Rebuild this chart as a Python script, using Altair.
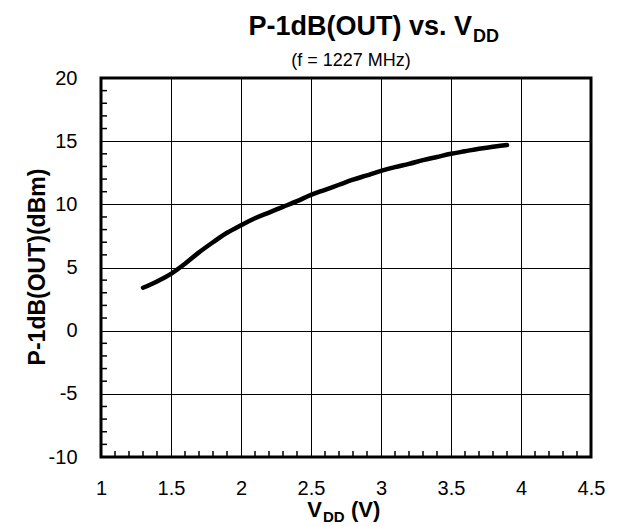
import altair as alt
import pandas as pd

# ---- data ----
vdd = [1.3, 1.4, 1.5, 1.6, 1.7, 1.8, 1.9, 2.0, 2.1, 2.2, 2.3, 2.4, 2.5, 2.6,
       2.7, 2.8, 2.9, 3.0, 3.1, 3.2, 3.3, 3.4, 3.5, 3.6, 3.7, 3.8, 3.9]
p1db = [3.4, 3.9, 4.5, 5.3, 6.2, 7.0, 7.75, 8.35, 8.9, 9.35, 9.8, 10.25, 10.75, 11.15,
        11.55, 11.95, 12.3, 12.65, 12.95, 13.2, 13.5, 13.75, 14.0, 14.2, 14.4, 14.55, 14.7]

x_ticks = [1, 1.5, 2, 2.5, 3, 3.5, 4, 4.5]
y_ticks = [-10, -5, 0, 5, 10, 15, 20]
x_minor = [1.1, 1.2, 1.3, 1.4, 1.6, 1.7, 1.8, 1.9, 2.1, 2.2, 2.3, 2.4, 2.6, 2.7, 2.8, 2.9,
           3.1, 3.2, 3.3, 3.4, 3.6, 3.7, 3.8, 3.9, 4.1, 4.2, 4.3, 4.4]
y_minor = [-9, -8, -7, -6, -4, -3, -2, -1, 1, 2, 3, 4, 6, 7, 8, 9,
           11, 12, 13, 14, 16, 17, 18, 19]

title_main = "P-1dB(OUT) vs. V"
title_sub = "DD"
subtitle = "(f = 1227 MHz)"
xtitle_main = "V"
xtitle_sub = "DD"
xtitle_tail = "(V)"
ytitle = "P-1dB(OUT)(dBm)"

FONT = "Liberation Sans"
W, H = 490, 379

xscale = alt.Scale(domain=[1, 4.5], nice=False, zero=False)
yscale = alt.Scale(domain=[-10, 20], nice=False, zero=False)

df = pd.DataFrame({"vdd": vdd, "p": p1db})

line = alt.Chart(df).mark_line(
    color="black", strokeWidth=4.5, interpolate="monotone", strokeCap="round"
).encode(
    x=alt.X("vdd:Q", scale=xscale,
            axis=alt.Axis(values=x_ticks, title=None, grid=True, gridColor="black",
                          gridWidth=1, gridOpacity=1, ticks=False, domain=False,
                          labelFont=FONT, labelFontSize=20, labelColor="black",
                          labelPadding=21, labelFlush=False,
                          labelExpr="'' + datum.value")),
    y=alt.Y("p:Q", scale=yscale,
            axis=alt.Axis(values=y_ticks, title=None, grid=True, gridColor="black",
                          gridWidth=1, gridOpacity=1, ticks=False, domain=False,
                          labelFont=FONT, labelFontSize=20, labelColor="black",
                          labelPadding=24, labelFlush=False,
                          labelExpr="'' + datum.value")),
)

xm = alt.Chart(pd.DataFrame({"x": x_minor})).mark_rule(color="black", strokeWidth=1.5).encode(
    x=alt.X("x:Q", scale=xscale), y=alt.value(H), y2=alt.value(H - 6)
)
ym = alt.Chart(pd.DataFrame({"y": y_minor})).mark_rule(color="black", strokeWidth=1.5).encode(
    y=alt.Y("y:Q", scale=yscale), x=alt.value(0), x2=alt.value(6)
)


def txt(t, x, y, size, bold=False, align="left", angle=0):
    kw = dict(font=FONT, fontSize=size, fontWeight="bold" if bold else "normal",
              color="black", align=align, baseline="alphabetic")
    if angle:
        kw["angle"] = angle
    return alt.Chart(pd.DataFrame({"t": [t]})).mark_text(**kw).encode(
        text="t:N", x=alt.value(x), y=alt.value(y))


texts = [
    txt(title_main, 371, -43, 27, True, "right"),
    txt(title_sub, 372, -36, 18, True, "left"),
    txt(subtitle, 250, -12, 18, False, "center"),
    txt(xtitle_main, 221, 439, 22, True, "right"),
    txt(xtitle_sub, 222, 444, 15, True, "left"),
    txt(xtitle_tail, 250, 439, 22, True, "left"),
    txt(ytitle, -56, 189, 23, True, "center", 270),
]

chart = alt.layer(line, xm, ym, *texts).properties(
    width=W, height=H,
    autosize=alt.AutoSizeParams(type="none"),
    padding={"left": 93, "top": 70, "right": 19, "bottom": 69},
).configure_view(stroke="black", strokeWidth=3)

chart.save("out.html", embed_options={"renderer": "svg", "actions": False})
